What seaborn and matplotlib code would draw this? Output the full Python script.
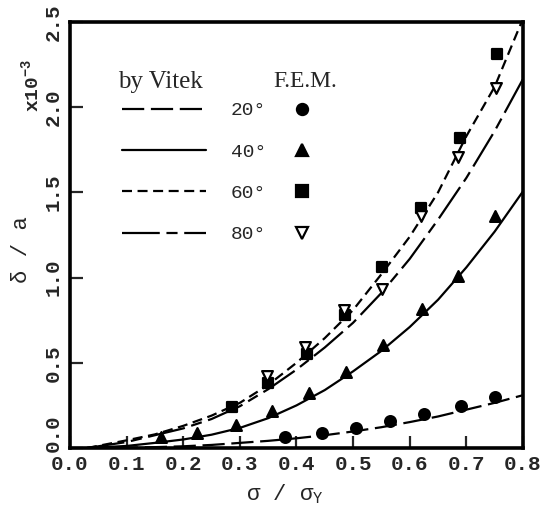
import matplotlib
matplotlib.use("Agg")
import matplotlib.pyplot as plt
from matplotlib.lines import Line2D
import seaborn as sns
import pandas as pd

# Vitek curves, x = sigma / sigma_Y
curve_x = [0.03, 0.10, 0.15, 0.20, 0.25, 0.30, 0.35, 0.40, 0.45, 0.50,
           0.55, 0.60, 0.65, 0.70, 0.75, 0.80]
curve_20 = [0.0, 0.002, 0.005, 0.010, 0.018, 0.030, 0.042, 0.057, 0.075, 0.097,
            0.122, 0.152, 0.185, 0.225, 0.265, 0.310]
curve_40 = [0.0, 0.012, 0.030, 0.050, 0.078, 0.118, 0.175, 0.250, 0.340, 0.450,
            0.570, 0.710, 0.870, 1.060, 1.270, 1.506]
curve_60 = [0.0, 0.045, 0.080, 0.130, 0.190, 0.265, 0.370, 0.500, 0.645, 0.810,
            1.020, 1.240, 1.500, 1.830, 2.120, 2.520]
curve_80 = [0.0, 0.035, 0.075, 0.115, 0.170, 0.245, 0.345, 0.460, 0.590, 0.735,
            0.910, 1.110, 1.340, 1.585, 1.860, 2.165]

# F.E.M. results
fem_x_20 = [0.38, 0.445, 0.505, 0.565, 0.625, 0.69, 0.75]
fem_y_20 = [0.065, 0.09, 0.12, 0.16, 0.20, 0.247, 0.30]
fem_x_40 = [0.16, 0.225, 0.293, 0.357, 0.422, 0.488, 0.553, 0.621, 0.686, 0.75]
fem_y_40 = [0.062, 0.088, 0.137, 0.218, 0.32, 0.445, 0.606, 0.817, 1.01, 1.36]
fem_x_60 = [0.286, 0.35, 0.418, 0.486, 0.551, 0.62, 0.688, 0.755]
fem_y_60 = [0.24, 0.38, 0.55, 0.78, 1.06, 1.41, 1.82, 2.31]
fem_x_80 = [0.348, 0.415, 0.484, 0.551, 0.62, 0.685, 0.752]
fem_y_80 = [0.42, 0.59, 0.81, 0.935, 1.36, 1.71, 2.11]

angles = ["20°", "40°", "60°", "80°"]
x_ticks = [0.0, 0.1, 0.2, 0.3, 0.4, 0.5, 0.6, 0.7, 0.8]
y_ticks = [0.0, 0.5, 1.0, 1.5, 2.0, 2.5]

sns.set_style("ticks")
mono = "Liberation Mono"
serif = "Liberation Serif"
plt.rcParams["font.family"] = [mono, "DejaVu Sans"]
plt.rcParams["mathtext.fontset"] = "custom"
plt.rcParams["mathtext.rm"] = mono

line_dashes = {"20°": (10, 3), "40°": "", "60°": (4.5, 2.5), "80°": (17, 3, 5, 3)}
markers = {"20°": "o", "40°": "^", "60°": "s", "80°": "v"}

curves = pd.DataFrame({
    "s": curve_x * 4,
    "d": curve_20 + curve_40 + curve_60 + curve_80,
    "angle": [a for a in angles for _ in curve_x],
})
fem = pd.DataFrame({
    "s": fem_x_20 + fem_x_40 + fem_x_60 + fem_x_80,
    "d": fem_y_20 + fem_y_40 + fem_y_60 + fem_y_80,
    "angle": (["20°"] * len(fem_x_20) + ["40°"] * len(fem_x_40)
              + ["60°"] * len(fem_x_60) + ["80°"] * len(fem_x_80)),
})

fig = plt.figure(figsize=(5.49, 5.15), dpi=100)
ax = fig.add_axes([0.1275, 0.1301, 0.8251, 0.8272])

sns.lineplot(data=curves, x="s", y="d", style="angle", dashes=line_dashes,
             color="black", linewidth=1.6, legend=False, ax=ax)

for a in angles:
    sub = fem[fem["angle"] == a]
    face = "white" if a == "80°" else "black"
    sns.scatterplot(x=sub["s"], y=sub["d"], marker=markers[a], s=60,
                    facecolor=face, edgecolor="black", linewidth=1.6,
                    legend=False, ax=ax, zorder=3)

ax.set_xlim(0.0, 0.8)
ax.set_ylim(0.0, 2.5)
ax.set_xticks(x_ticks)
ax.set_yticks(y_ticks)
ax.set_xticklabels([f"{v:.1f}" for v in x_ticks], fontsize=15, fontweight="bold")
# bottom y label is drawn separately, lifted clear of the x labels
ax.set_yticklabels([""] + [f"{v:.1f}" for v in y_ticks[1:]], fontsize=15,
                   fontweight="bold", rotation=90, va="center")
ax.text(-0.0155, 0.035, f"{y_ticks[0]:.1f}", transform=ax.transAxes, rotation=90,
        ha="right", va="center", fontsize=15, fontweight="bold")

ax.tick_params(direction="in", length=9, width=1.6, pad=5, top=False, right=False)
for sp in ax.spines.values():
    sp.set_linewidth(2.6)
    sp.set_color("black")

ax.set_xlabel(r"σ / σ$_{\mathregular{Y}}$", fontsize=16)
ax.xaxis.set_label_coords(0.475, -0.08)
ax.set_ylabel("δ / a", fontsize=16)
ax.yaxis.set_label_coords(-0.084, 0.465)
ax.text(-0.085, 0.852, r"x10$^{\mathregular{-3}}$", transform=ax.transAxes,
        rotation=90, ha="center", va="center", fontsize=14, fontweight="bold")

# legend headings
ax.text(0.199, 0.86, "by Vitek", transform=ax.transAxes, ha="center", va="center",
        fontsize=18, family=serif)
ax.text(0.519, 0.86, "F.E.M.", transform=ax.transAxes, ha="center", va="center",
        fontsize=17, family=serif)

# legend: Vitek curves
line_handles = [Line2D([], [], color="black", linewidth=1.6,
                       dashes=(line_dashes[a] if line_dashes[a] else (None, None)))
                for a in angles]
leg1 = ax.legend(line_handles, angles, loc="upper left",
                 bbox_to_anchor=(0.115, 0.8125), frameon=False, borderpad=0,
                 borderaxespad=0, handlelength=4.3, handletextpad=1.3,
                 labelspacing=1.22, prop={"family": mono, "size": 14})
ax.add_artist(leg1)

# legend: F.E.M. markers
mark_handles = [Line2D([], [], linestyle="none", marker=markers[a], markersize=8,
                       markerfacecolor=("white" if a == "80°" else "black"),
                       markeredgecolor="black", markeredgewidth=1.6)
                for a in angles]
ax.legend(mark_handles, ["", "", "", ""], loc="upper center",
          bbox_to_anchor=(0.512, 0.8125), frameon=False, borderpad=0,
          borderaxespad=0, handlelength=1.0, handletextpad=0,
          labelspacing=1.22, prop={"family": mono, "size": 14})

fig.savefig("out.png", dpi=100)
